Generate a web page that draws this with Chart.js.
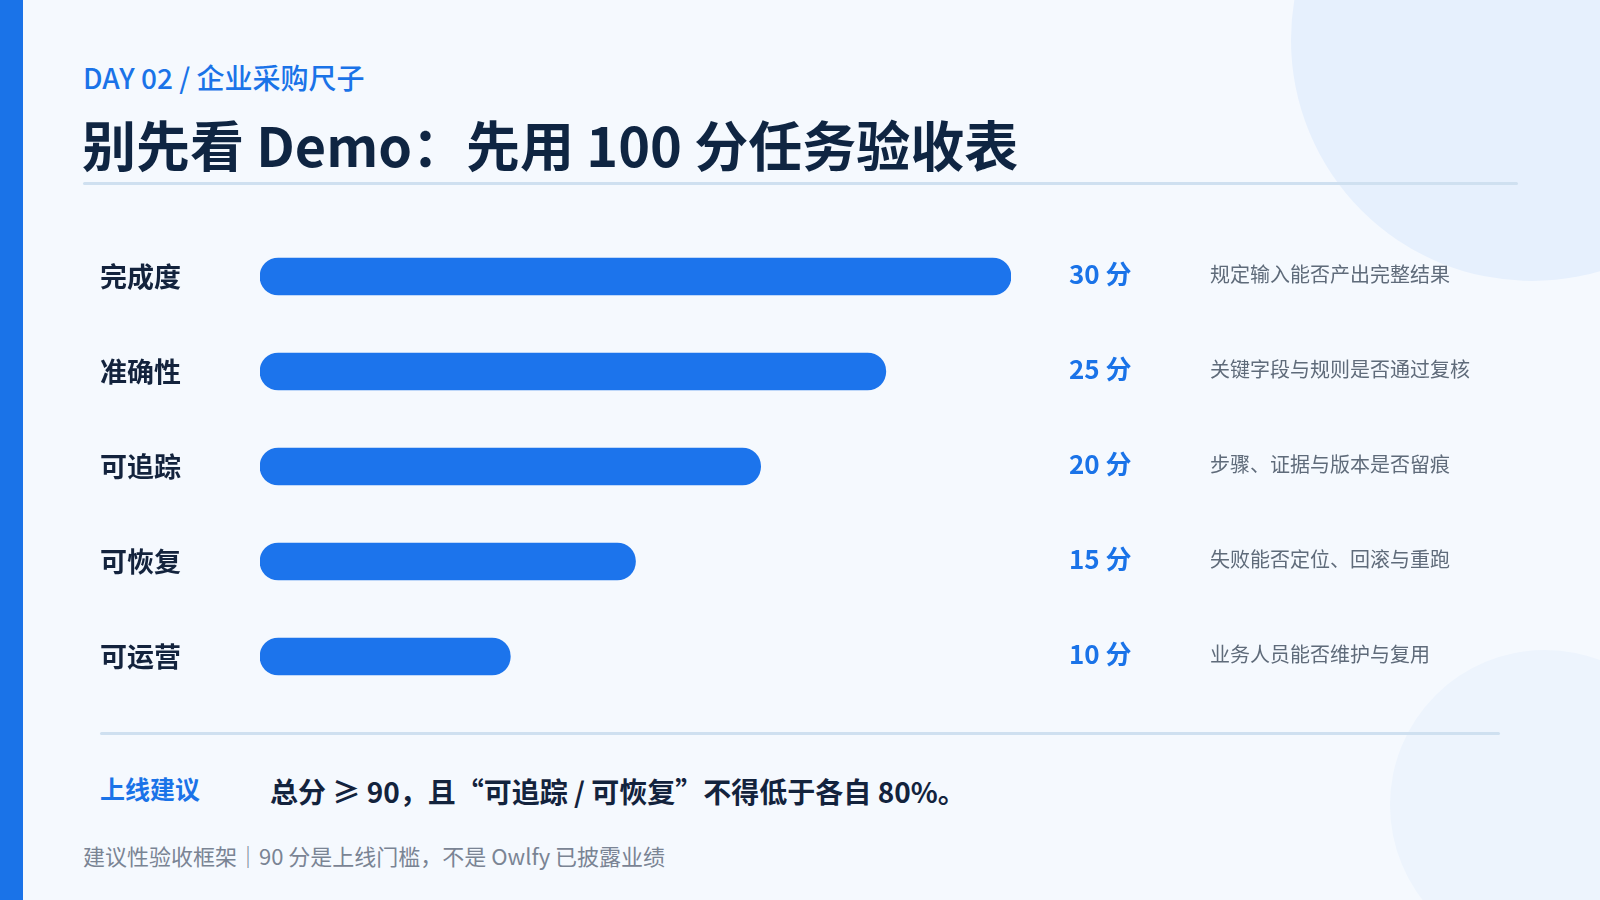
<!DOCTYPE html>
<html>
<head>
    <meta charset="utf-8">
    <title>100 分任务验收表</title>
    <script src="https://cdn.jsdelivr.net/npm/chart.js"></script>
    <style>
        html, body { margin: 0; padding: 0; }
        body {
            width: 1600px; height: 900px; position: relative; overflow: hidden;
            background: #f5f9fe;
            font-family: "Noto Sans CJK SC", "Noto Sans", sans-serif;
        }
        .stripe { position: absolute; left: 0; top: 0; width: 23px; height: 900px; background: #1a73e8; }
        .blob1 { position: absolute; left: 1291px; top: -201px; width: 482px; height: 482px; border-radius: 50%; background: #e6f0fd; }
        .blob2 { position: absolute; left: 1390px; top: 650px; width: 310px; height: 310px; border-radius: 50%; background: #edf4fd; }
        .txt { position: absolute; line-height: 1; white-space: nowrap; transform: translateY(-50%); }
        .sub { left: 83px; top: 77px; font-size: 28px; font-weight: 500; color: #1a73e8; }
        .title { left: 82px; top: 144px; font-size: 54px; font-weight: 700; color: #0f2542; }
        .rule { position: absolute; height: 3px; background: #cfe0f0; border-radius: 2px; }
        .advice-k { left: 100px; top: 788px; font-size: 25px; font-weight: 700; color: #1a73e8; }
        .advice-v { left: 270px; top: 791px; font-size: 28px; font-weight: 700; color: #13233d; }
        .foot { left: 83px; top: 855px; font-size: 22px; font-weight: 400; color: #7a8494; }
        #chart { position: absolute; left: 0; top: 0; }
    </style>
</head>
<body>
    <div class="blob1"></div>
    <div class="blob2"></div>
    <div class="stripe"></div>
    <div class="txt sub">DAY 02 / 企业采购尺子</div>
    <div class="txt title">别先看 Demo：先用 100 分任务验收表</div>
    <div class="rule" style="left:83px; top:182px; width:1435px;"></div>
    <div class="rule" style="left:100px; top:732px; width:1400px;"></div>
    <div class="txt advice-k">上线建议</div>
    <div class="txt advice-v">总分 ≥ 90，且“可追踪 / 可恢复”不得低于各自 80%。</div>
    <div class="txt foot">建议性验收框架｜90 分是上线门槛，不是 Owlfy 已披露业绩</div>

    <div style="position:absolute; left:0; top:0; width:1600px; height:900px;">
        <canvas id="chart"></canvas>
    </div>

    <script>
        // 数据
        var categorias = ['完成度', '准确性', '可追踪', '可恢复', '可运营'];
        var puntos = [30, 25, 20, 15, 10];
        var etiquetasPuntos = ['30 分', '25 分', '20 分', '15 分', '10 分'];
        var descripciones = [
            '规定输入能否产出完整结果',
            '关键字段与规则是否通过复核',
            '步骤、证据与版本是否留痕',
            '失败能否定位、回滚与重跑',
            '业务人员能否维护与复用'
        ];

        var fuente = '"Noto Sans CJK SC", "Noto Sans", sans-serif';

        // 右侧的分值和说明文字
        var textosDerecha = {
            id: 'textosDerecha',
            afterDatasetsDraw: function(chart) {
                var ctx = chart.ctx;
                var yScale = chart.scales.y;
                var xScale = chart.scales.x;
                var xPuntos = xScale.right + 58;
                var xDesc = xScale.right + 199;
                ctx.save();
                ctx.textBaseline = 'middle';
                ctx.textAlign = 'left';
                categorias.forEach(function(c, i) {
                    var y = yScale.getPixelForValue(i);
                    ctx.font = '700 26px ' + fuente;
                    ctx.fillStyle = '#1a73e8';
                    ctx.fillText(etiquetasPuntos[i], xPuntos, y - 2);
                    ctx.font = '400 20px ' + fuente;
                    ctx.fillStyle = '#5f6b7a';
                    ctx.fillText(descripciones[i], xDesc, y - 2);
                });
                ctx.restore();
            }
        };

        var ctx = document.getElementById('chart').getContext('2d');
        var chart = new Chart(ctx, {
            type: 'bar',
            data: {
                labels: categorias,
                datasets: [{
                    data: puntos,
                    backgroundColor: '#1c74ec',
                    borderRadius: 19,
                    borderSkipped: false,
                    barThickness: 37
                }]
            },
            options: {
                indexAxis: 'y',
                responsive: true,
                maintainAspectRatio: false,
                animation: false,
                layout: { padding: { top: 229, bottom: 196, left: 100, right: 589 } },
                plugins: {
                    legend: { display: false },
                    tooltip: { enabled: false }
                },
                scales: {
                    x: {
                        display: false,
                        min: 0,
                        max: 30
                    },
                    y: {
                        grid: { display: false },
                        border: { display: false },
                        afterFit: function(scale) { scale.width = 160; },
                        ticks: {
                            crossAlign: 'far',
                            padding: 0,
                            color: '#13233d',
                            font: { family: fuente, size: 27, weight: '700' }
                        }
                    }
                }
            },
            plugins: [textosDerecha]
        });
    </script>
</body>
</html>
